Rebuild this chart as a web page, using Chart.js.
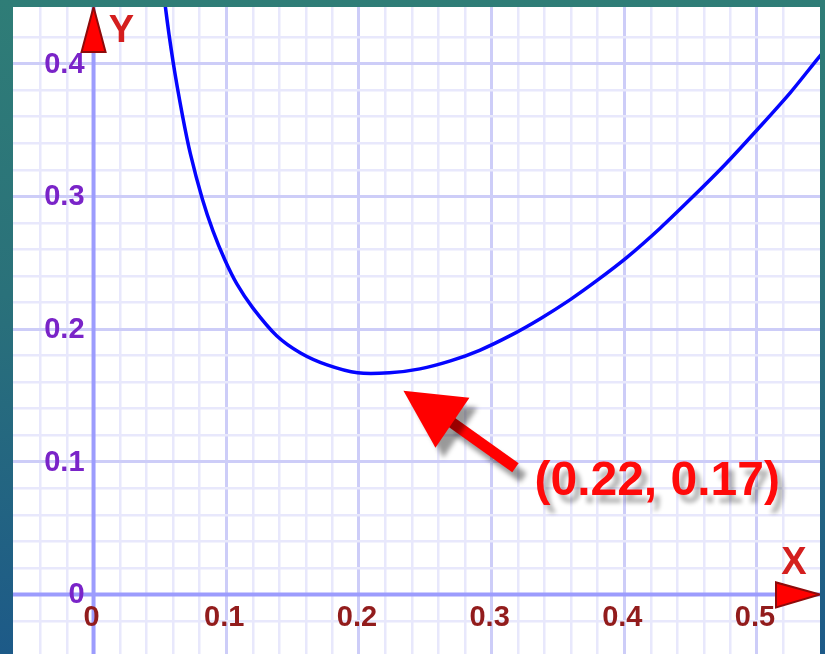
<!DOCTYPE html>
<html>
<head>
<meta charset="utf-8">
<script src="https://cdn.jsdelivr.net/npm/chart.js@4"></script>
<style>
  html, body { margin: 0; padding: 0; }
  body {
    width: 825px; height: 654px; overflow: hidden; position: relative;
    background: linear-gradient(180deg, #2f7d77 0%, #2a717a 45%, #1d5a88 100%);
  }
  #wrap { position: absolute; left: 13px; top: 7px; width: 807px; height: 647px; background: #fff; }
</style>
</head>
<body>
<div id="wrap"><canvas id="grafico" width="807" height="647"></canvas></div>
<script>
// curve
const curveX = [0.047, 0.054, 0.060, 0.067, 0.073, 0.082, 0.090, 0.099, 0.108, 0.120, 0.138, 0.156, 0.176, 0.199,
  0.223, 0.246, 0.269, 0.291, 0.314, 0.337, 0.359, 0.380, 0.402, 0.427, 0.452, 0.476, 0.500, 0.525, 0.546, 0.556];
const curveY = [0.509, 0.444, 0.401, 0.361, 0.332, 0.298, 0.274, 0.252, 0.234, 0.216, 0.195, 0.182, 0.173, 0.167,
  0.167, 0.170, 0.176, 0.184, 0.195, 0.208, 0.222, 0.237, 0.254, 0.276, 0.300, 0.324, 0.350, 0.378, 0.404, 0.416];

const xTicks = [0, 0.1, 0.2, 0.3, 0.4, 0.5];
const xTickLabels = ['0', '0.1', '0.2', '0.3', '0.4', '0.5'];
const yTicks = [0, 0.1, 0.2, 0.3, 0.4];
const yTickLabels = ['0', '0.1', '0.2', '0.3', '0.4'];

const minPoint = [0.22, 0.17];
const minLabel = '(0.22, 0.17)';
const xAxisName = 'X';
const yAxisName = 'Y';

// grid: major every 0.1, minor every 0.02, nothing at 0 (axis drawn separately)
function gridColor(c) {
  const v = c.tick.value * 100;
  const n = Math.round(v);
  if (Math.abs(v - n) > 0.01 || n === 0) return 'rgba(0,0,0,0)';
  if (n % 10 === 0) return '#cdcdf8';
  if (n % 2 === 0) return '#e8e8fc';
  return 'rgba(0,0,0,0)';
}
function gridWidth(c) {
  const n = Math.round(c.tick.value * 100);
  return n % 10 === 0 ? 3 : 2.5;
}

function tri(ctx, pts, fill, stroke) {
  ctx.beginPath();
  ctx.moveTo(pts[0][0], pts[0][1]);
  ctx.lineTo(pts[1][0], pts[1][1]);
  ctx.lineTo(pts[2][0], pts[2][1]);
  ctx.closePath();
  ctx.fillStyle = fill;
  ctx.fill();
  if (stroke) { ctx.strokeStyle = stroke; ctx.lineWidth = 2; ctx.stroke(); }
}

const ejes = {
  id: 'ejes',
  beforeDatasetsDraw(chart) {
    const { ctx, chartArea: a, scales: { x, y } } = chart;
    const x0 = x.getPixelForValue(0), y0 = y.getPixelForValue(0);
    ctx.save();
    ctx.strokeStyle = '#9c9cfd';
    ctx.lineWidth = 4;
    ctx.beginPath();
    ctx.moveTo(x0, a.top); ctx.lineTo(x0, a.bottom);
    ctx.moveTo(a.left, y0); ctx.lineTo(a.right, y0);
    ctx.stroke();
    ctx.restore();
  },
  afterDraw(chart) {
    const { ctx, chartArea: a, scales: { x, y } } = chart;
    const x0 = x.getPixelForValue(0), y0 = y.getPixelForValue(0);
    ctx.save();

    // tick labels
    ctx.font = 'bold 29px "Liberation Sans", Arial, sans-serif';
    ctx.textBaseline = 'middle';
    ctx.textAlign = 'right';
    ctx.fillStyle = '#7a24c8';
    yTicks.forEach((v, i) => ctx.fillText(yTickLabels[i], x0 - 9, y.getPixelForValue(v) + 1));
    ctx.textAlign = 'center';
    ctx.fillStyle = '#921c1c';
    xTicks.forEach((v, i) => ctx.fillText(xTickLabels[i], x.getPixelForValue(v) - 2, y0 + 24));

    // axis arrows + names
    tri(ctx, [[x0, a.top], [x0 - 12, a.top + 45], [x0 + 12, a.top + 45]], '#ff0000', '#8e0a0a');
    tri(ctx, [[a.right, y0], [a.right - 44, y0 - 12], [a.right - 44, y0 + 13]], '#ff0000', '#8e0a0a');
    ctx.font = 'bold 38px "Liberation Sans", Arial, sans-serif';
    ctx.fillStyle = '#d41e1e';
    ctx.fillText(yAxisName, x0 + 28, a.top + 25);
    ctx.fillText(xAxisName, a.right - 26, y0 - 31);

    // annotation arrow pointing at the minimum
    const px = x.getPixelForValue(minPoint[0]), py = y.getPixelForValue(minPoint[1]);
    ctx.shadowColor = 'rgba(0,0,0,0.4)';
    ctx.shadowBlur = 5;
    ctx.shadowOffsetX = 8;
    ctx.shadowOffsetY = 10;
    ctx.strokeStyle = '#ff0000';
    ctx.lineWidth = 11;
    ctx.beginPath();
    ctx.moveTo(px + 64, py + 52);
    ctx.lineTo(px + 130, py + 99);
    ctx.stroke();
    tri(ctx, [[px + 18, py + 22], [px + 84, py + 29], [px + 50, py + 79]], '#ff0000');

    ctx.shadowColor = 'rgba(0,0,0,0.28)';
    ctx.shadowBlur = 4;
    ctx.shadowOffsetX = 6;
    ctx.shadowOffsetY = 8;
    ctx.font = 'bold 48px "Liberation Sans", Arial, sans-serif';
    ctx.textAlign = 'left';
    ctx.textBaseline = 'alphabetic';
    ctx.fillStyle = '#ff0a0a';
    ctx.fillText(minLabel, px + 149, py + 126);
    ctx.restore();
  }
};

const ctx = document.getElementById('grafico').getContext('2d');
new Chart(ctx, {
  type: 'scatter',
  data: {
    datasets: [{
      data: curveX.map((v, i) => ({ x: v, y: curveY[i] })),
      showLine: true,
      borderColor: '#0505ff',
      borderWidth: 3.5,
      pointRadius: 0,
      tension: 0.3,
      fill: false
    }]
  },
  options: {
    responsive: false,
    animation: false,
    events: [],
    layout: { padding: 0 },
    plugins: { legend: { display: false }, tooltip: { enabled: false } },
    scales: {
      x: {
        type: 'linear', min: -0.0607, max: 0.5475,
        ticks: { display: false, stepSize: 0.02 },
        grid: { color: gridColor, lineWidth: gridWidth, drawTicks: false },
        border: { display: false }
      },
      y: {
        type: 'linear', min: -0.0449, max: 0.4427,
        ticks: { display: false, stepSize: 0.02 },
        grid: { color: gridColor, lineWidth: gridWidth, drawTicks: false },
        border: { display: false }
      }
    }
  },
  plugins: [ejes]
});
</script>
</body>
</html>
